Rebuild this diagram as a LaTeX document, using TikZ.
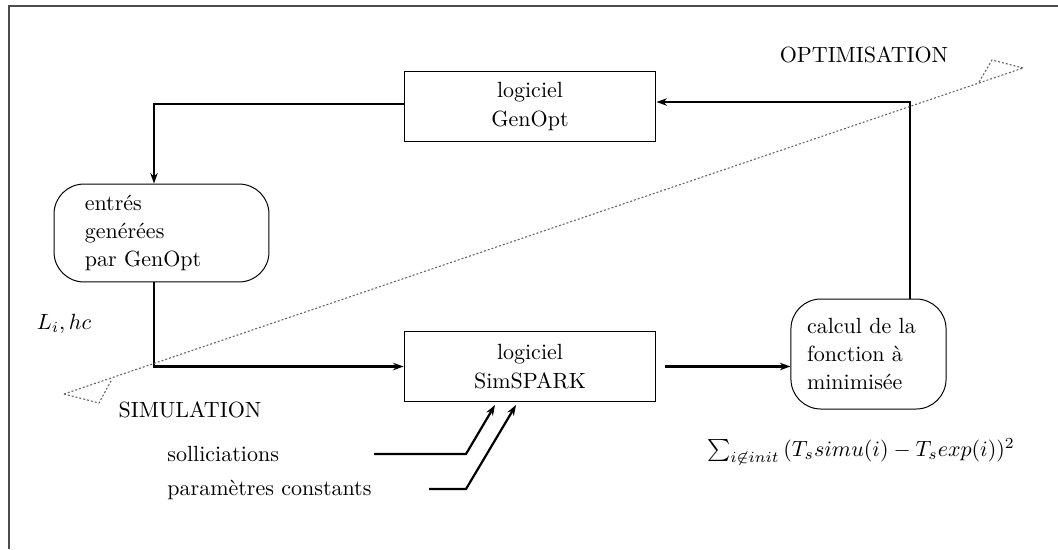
\documentclass[tikz,border=0pt]{standalone}
\usetikzlibrary{arrows.meta}
\begin{document}
\begin{tikzpicture}[x=0.4545pt,y=-0.4545pt,
  box/.style={draw,line width=0.45pt,inner sep=0pt,align=center,minimum width=114.5pt,minimum height=31.4pt},
  rbox/.style={draw,line width=0.45pt,rounded corners=13.6pt,align=left},
  conn/.style={line width=1pt},
  arr/.style={conn,-{Stealth[length=4.8pt,width=3.4pt]}},
  lab/.style={inner sep=0pt},
  zone/.style={black!60,line width=0.5pt,dash pattern=on 0.9pt off 0.9pt}]
\useasboundingbox (0,0) rectangle (1058,549);
% frame
\draw[black!70,line width=0.9pt] (9,549) -- (9,6) -- (1058,6);
% nodes
\node[box] (genopt) at (530,106.5) {logiciel\\[1.5pt]GenOpt};
\node[box] (simspark) at (530,366.5) {logiciel\\[1.5pt]SimSPARK};
\node[rbox,minimum width=97.7pt,minimum height=44.5pt,inner xsep=14pt,inner ysep=0pt,text width=69.7pt] (entres) at (161.5,233) {entrés\\[0.8pt]genérées\\[0.8pt]par GenOpt};
\node[rbox,minimum width=70.5pt,minimum height=50pt,inner xsep=7.3pt,inner ysep=0pt,text width=55.9pt] (calcul) at (868.5,354) {calcul de la\\[0.8pt]fonction à\\[0.8pt]minimisée};
% labels
\node[lab] (optim) at (864,55) {OPTIMISATION};
\node[lab] (simul) at (190,410) {SIMULATION};
\node[lab] (li) at (64,324) {$L_i, hc$};
\node[lab,anchor=west] (sollic) at (167,454) {solliciations};
\node[lab,anchor=west] (param) at (167,490) {paramètres constants};
\node[lab] (formule) at (861,452) {$\sum_{i\not\in init}\,(T_s simu(i) - T_s exp(i))^2$};
% connectors
\coordinate (c1) at (154,104);
\coordinate (c2) at (910,102);
\draw[arr] (genopt.west |- c1) -- (c1) -- (c1 |- entres.north);
\draw[arr] (c1 |- entres.south) |- (simspark.west);
\draw[arr] ([xshift=4]simspark.east) -- (calcul.west |- simspark.east);
\draw[arr] (c2 |- calcul.north) -- (c2) -- (c2 -| genopt.east);
% inputs
\coordinate (s1) at (374,454);
\coordinate (s2) at (466,454);
\coordinate (s3) at (495,405);
\coordinate (p1) at (429,489);
\coordinate (p2) at (466,489);
\coordinate (p3) at (516,405);
\draw[arr] (s1) -- (s2) -- (s3);
\draw[arr] (p1) -- (p2) -- (p3);
% separation line
\coordinate (z1) at (64,394);
\coordinate (z2) at (1023,68);
\draw[zone] (z1) -- (z2);
\draw[zone] (z1) -- (99,403) -- (112,379);
\draw[zone] (z2) -- (992,60) -- (979,82);
\end{tikzpicture}
\end{document}
